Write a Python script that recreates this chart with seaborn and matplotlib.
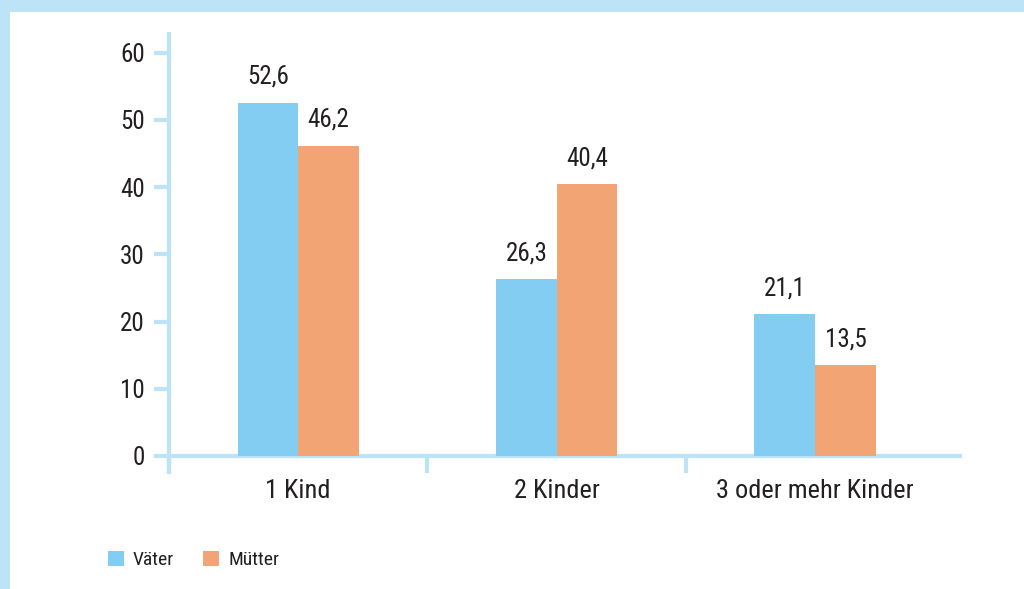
import pandas as pd
import matplotlib
matplotlib.use("Agg")
import matplotlib.pyplot as plt
import matplotlib.patches as mpatches
import seaborn as sns

# data
categories = ["1 Kind", "2 Kinder", "3 oder mehr Kinder"]
vaeter = [52.6, 26.3, 21.1]
muetter = [46.2, 40.4, 13.5]
series_names = ["Väter", "Mütter"]
yticks = [0, 10, 20, 30, 40, 50, 60]

BLUE = "#84CDF2"
ORANGE = "#F2A474"
AXIS = "#BDE3F7"
TEXT = "#231F20"

sns.set_theme(style="white")
plt.rcParams['font.family'] = ['Roboto Condensed', 'DejaVu Sans']

df = pd.DataFrame({
    "cat": categories * 2,
    "val": vaeter + muetter,
    "group": [series_names[0]] * 3 + [series_names[1]] * 3,
})

fig = plt.figure(figsize=(10.24, 5.89), dpi=100, facecolor="white")
# light blue frame bands (top and left)
fig.patches.append(mpatches.Rectangle((0, 1 - 12 / 589), 1, 12 / 589, transform=fig.transFigure,
                                      facecolor=AXIS, edgecolor="none", zorder=0))
fig.patches.append(mpatches.Rectangle((0, 0), 10 / 1024, 1, transform=fig.transFigure,
                                      facecolor=AXIS, edgecolor="none", zorder=0))

ax = fig.add_axes([169 / 1024, (589 - 472) / 589, (960 - 169) / 1024, (472 - 34) / 589])
ax.set_facecolor("none")

sns.barplot(data=df, x="cat", y="val", hue="group", palette=[BLUE, ORANGE],
            width=0.47, saturation=1, gap=0, linewidth=0, ax=ax, legend=False)

for cont in ax.containers:
    ax.bar_label(cont, labels=[f"{v:.1f}".replace(".", ",") for v in cont.datavalues],
                 padding=10, fontsize=18, color=TEXT)

ax.set_xlim(-0.5, 2.56)
ax.set_ylim(-2.4, 62.8)
ax.set_xlabel("")
ax.set_ylabel("")

for s in ["top", "right"]:
    ax.spines[s].set_visible(False)
ax.spines["bottom"].set_position(("data", 0))
for s in ["left", "bottom"]:
    ax.spines[s].set_color(AXIS)
    ax.spines[s].set_linewidth(3)
    ax.spines[s].set_zorder(0.5)

ax.set_yticks(yticks)
ax.set_yticklabels([str(t) for t in yticks])
ax.tick_params(axis="y", direction="out", length=10.5, width=3, color=AXIS,
               labelsize=18, labelcolor=TEXT, pad=7, left=True)

ax.set_xticks([0, 1, 2])
ax.set_xticklabels(categories)
ax.set_xticks([-0.5, 0.5, 1.5], minor=True)
ax.tick_params(axis="x", which="major", length=0, labelsize=19, labelcolor=TEXT, pad=17)
ax.tick_params(axis="x", which="minor", direction="out", length=12, width=3, color=AXIS, bottom=True)

handles = [mpatches.Patch(facecolor=BLUE, edgecolor="none", label=series_names[0]),
           mpatches.Patch(facecolor=ORANGE, edgecolor="none", label=series_names[1])]
leg = fig.legend(handles=handles, loc="center left", bbox_to_anchor=(108 / 1024, 1 - 560 / 589),
                 ncol=2, frameon=False, fontsize=14, handlelength=0.82, handleheight=0.82,
                 handletextpad=0.46, columnspacing=1.5, borderpad=0, borderaxespad=0)
for t in leg.get_texts():
    t.set_color(TEXT)

fig.savefig("out.png", dpi=100, facecolor="white")
